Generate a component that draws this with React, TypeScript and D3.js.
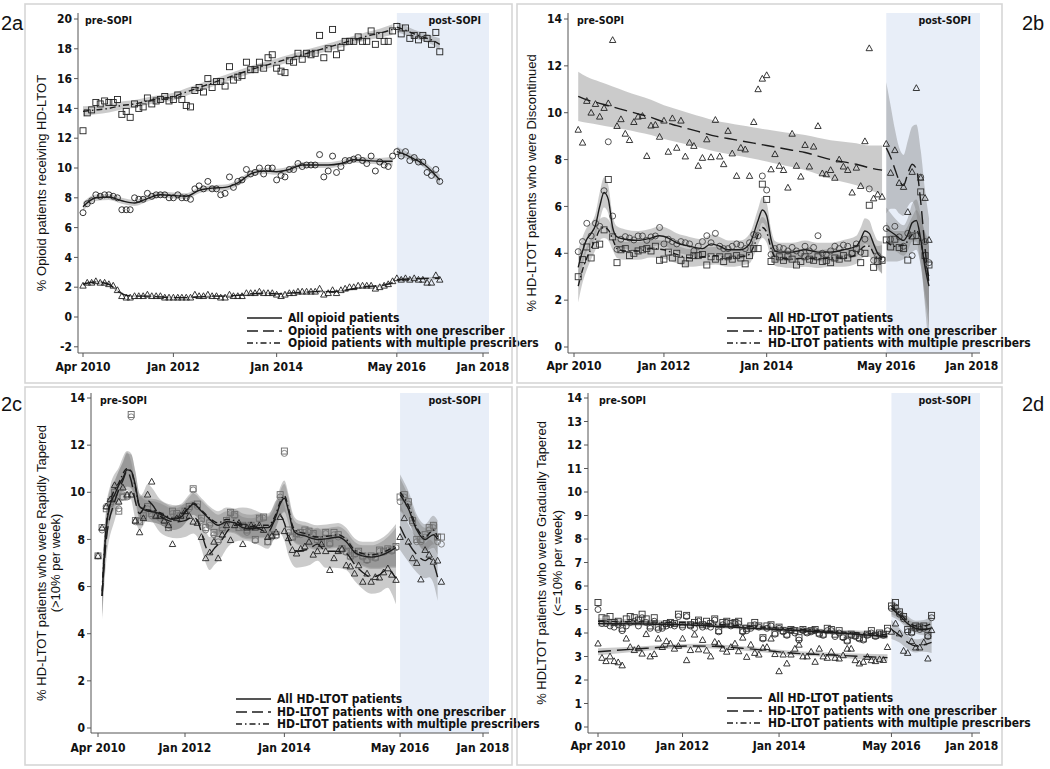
import React from 'react';
import * as d3 from 'd3';

type Knot = [number, number, number]; // [month index from Apr 2010, fitted value, CI half-width]
type Val = number | null;

// ---------- axis ticks ----------
const xTickDates = [new Date(2010, 3, 1), new Date(2012, 0, 1), new Date(2014, 0, 1), new Date(2016, 4, 1), new Date(2018, 0, 1)];
const xTickLabels = ['Apr 2010', 'Jan 2012', 'Jan 2014', 'May 2016', 'Jan 2018'];
const sopiDate = new Date(2016, 4, 1);

const legendOpioid = ['All opioid patients', 'Opioid patients with one prescriber', 'Opioid patients with multiple prescribers'];
const legendHD = ['All HD-LTOT patients', 'HD-LTOT patients with one prescriber', 'HD-LTOT patients with multiple prescribers'];

// ---------- 2a: % opioid patients receiving HD-LTOT (monthly, Apr 2010 .. Mar 2017) ----------
const aAll: Val[] = [7.0,7.6,7.8,8.2,8.1,8.2,8.2,8.1,8.0,7.2, 7.2,7.2,8.0,7.9,7.9,8.3,8.1,8.2,8.2,8.2, 8.0,8.0,8.2,8.0,8.0,7.9,8.6,8.8,8.6,9.1, 8.6,8.6,8.2,8.3,9.4,8.7,9.1,9.2,9.9,9.6, 9.7,10.0,9.6,10.0,10.0,9.2,9.5,9.4,9.9,9.9, 10.3,10.1,10.2,10.2,10.2,10.9,9.4,9.8,10.8,9.7, 10.1,10.5,10.5,10.6,10.7,10.5,10.3,10.8,9.8,10.4, 10.2,10.1,10.8, 11.1,10.8,11.1,10.5,10.7,10.4,10.4,9.7,9.5,9.9,9.1];
const aOne: Val[] = [2.1,2.3,2.3,2.4,2.3,2.3,2.2,2.1,1.8,1.4, 1.3,1.3,1.4,1.4,1.4,1.5,1.4,1.4,1.4,1.3, 1.3,1.3,1.3,1.3,1.3,1.3,1.5,1.4,1.4,1.5, 1.4,1.4,1.3,1.3,1.5,1.4,1.4,1.4,1.6,1.6, 1.6,1.7,1.6,1.6,1.6,1.5,1.4,1.5,1.6,1.6, 1.7,1.7,1.7,1.7,1.7,1.9,1.5,1.6,1.8,1.6, 1.8,1.9,2.0,2.0,2.1,2.1,2.1,2.1,1.9,2.0, 2.1,2.2,2.4, 2.6,2.5,2.6,2.5,2.6,2.5,2.5,2.3,2.3,2.8,2.5];
const aMulti: Val[] = [12.5,13.7,13.9,14.4,14.3,14.5,14.4,14.4,14.6,13.6, 13.8,13.4,14.3,14.0,14.1,14.7,14.3,14.5,14.6,14.8, 14.5,14.6,14.9,14.6,14.2,14.1,15.2,15.4,15.1,16.0, 15.4,15.8,15.8,15.5,16.8,15.9,16.1,16.2,17.1,16.6, 16.6,17.1,16.7,17.4,17.6,16.7,16.5,16.4,17.2,17.1, 17.7,17.3,17.7,17.6,17.7,18.9,17.4,18.0,19.3,17.6, 18.1,18.5,18.5,18.5,18.8,18.5,18.5,19.2,18.3,18.9, 18.5,18.5,19.2, 19.5,19.0,19.4,18.7,18.9,18.6,18.9,18.7,18.3,19.1,17.8];
const aAllPre: Knot[] = [[0,7.4,0.3],[3,8.0,0.22],[6,8.05,0.2],[9,7.8,0.2],[12,7.65,0.2],[15,7.95,0.2],[18,8.2,0.2],[21,8.15,0.2],[24,8.1,0.2],[27,8.5,0.2],[30,8.65,0.2],[33,8.7,0.2],[36,9.0,0.2],[39,9.6,0.2],[42,9.8,0.2],[45,9.75,0.2],[48,9.9,0.2],[51,10.2,0.2],[54,10.2,0.2],[57,10.2,0.2],[60,10.3,0.2],[63,10.55,0.2],[66,10.5,0.2],[69,10.45,0.22],[72,10.45,0.3]];
const aAllPost: Knot[] = [[73,11.1,0.35],[75,10.9,0.25],[77,10.6,0.22],[79,10.3,0.22],[81,9.8,0.25],[83,9.2,0.35]];
const aOnePre: Knot[] = [[0,2.2,0.1],[3,2.35,0.08],[6,2.2,0.08],[8,1.75,0.08],[10,1.45,0.07],[12,1.4,0.06],[15,1.4,0.06],[18,1.35,0.06],[21,1.3,0.06],[24,1.3,0.06],[27,1.35,0.06],[30,1.4,0.06],[33,1.4,0.06],[36,1.45,0.06],[39,1.55,0.06],[42,1.6,0.06],[45,1.55,0.06],[48,1.6,0.06],[51,1.65,0.06],[54,1.7,0.06],[57,1.7,0.06],[60,1.75,0.06],[63,1.9,0.06],[66,2.05,0.06],[69,2.1,0.07],[72,2.3,0.1]];
const aOnePost: Knot[] = [[73,2.5,0.12],[76,2.55,0.08],[79,2.58,0.08],[83,2.6,0.12]];
const aMultiPre: Knot[] = [[0,13.8,0.35],[3,13.9,0.3],[6,14.0,0.28],[9,14.2,0.27],[12,14.3,0.26],[15,14.5,0.25],[18,14.65,0.25],[21,14.8,0.25],[24,15.1,0.25],[27,15.4,0.25],[30,15.7,0.25],[33,16.0,0.25],[36,16.3,0.25],[39,16.6,0.25],[42,16.85,0.25],[45,17.1,0.25],[48,17.35,0.25],[51,17.6,0.25],[54,17.85,0.25],[57,18.1,0.25],[60,18.35,0.26],[63,18.6,0.27],[66,18.85,0.28],[69,19.05,0.3],[72,19.3,0.35]];
const aMultiPost: Knot[] = [[73,19.45,0.35],[75,19.25,0.3],[77,19.0,0.28],[79,18.8,0.28],[81,18.6,0.3],[83,18.3,0.4]];

// ---------- 2b: % HD-LTOT patients discontinued ----------
const bAll: Val[] = [null, 4.07,4.5,5.28,4.74,5.28,5.15,6.67,8.76,5.59,4.17, 4.6,4.71,4.65,4.57,4.74,4.74,4.55,4.7,4.74,5.1, 4.4,4.6,4.5,4.4,4.5,4.45,4.4,4.1,4.3,4.5, 4.75,4.45,4.85,4.3,4.2,4.2,4.3,4.4,4.35,4.2, 4.45,4.8,4.75,7.3,6.7,3.95,4.2,4.25,4.2,4.1, 4.25,4.1,4.0,4.3,4.1,4.25,4.75,4.0,3.95,4.1, 4.3,4.2,4.35,4.3,4.0,4.4,4.05,4.6,6.75,3.7, 3.9,3.75, 5.06,4.6,5.15,4.7,4.3,4.85,3.9,4.75,7.25,4.5,3.6];
const bOne: Val[] = [null, 9.27,8.72,10.5,10.0,10.37,9.83,10.2,10.4,13.1,9.43, 9.72,9.1,8.83,9.6,9.83,9.86,8.15,9.45,9.48,8.97, 9.66,8.33,9.76,8.5,9.66,8.13,8.72,8.58,7.73,8.07, 8.86,8.1,9.69,8.13,7.8,9.22,8.26,7.3,8.5,8.43, 7.3,9.6,11.0,11.45,11.6,7.58,8.23,7.73,7.55,6.8, 9.1,7.73,7.27,8.62,7.7,8.55,9.43,7.41,7.37,7.55, 7.22,8.0,7.7,7.55,6.59,7.65,6.87,8.78,12.75,6.34, 6.51,6.41, 8.67,7.43,8.4,7.0,6.83,5.76,7.47,11.05,7.22,6.36,4.57];
const bMulti: Val[] = [null, 3.0,3.73,4.27,3.8,4.34,4.39,5.0,7.15,4.7,3.6, 4.15,4.2,3.9,4.0,4.1,4.15,4.2,4.1,4.3,3.7, 3.75,4.05,3.8,4.0,3.7,3.55,3.8,3.9,3.9,3.95, 3.5,3.85,3.75,3.85,3.65,3.85,3.75,3.9,3.8,3.55, 3.9,4.2,4.2,6.95,6.3,3.65,3.75,3.85,3.7,3.85, 3.75,3.5,3.65,3.85,3.75,3.7,3.85,3.65,3.7,3.6, 3.8,3.75,3.9,3.8,4.0,4.2,3.6,4.0,6.05,3.4, 3.65,3.7, 4.57,4.27,4.6,4.25,4.2,3.71,4.74,4.5,6.62,3.9,3.5];
const bAllPre: Knot[] = [[1,3.4,0.75],[2,4.1,0.6],[3,4.6,0.5],[4,4.85,0.45],[5,5.2,0.5],[6,6.0,0.6],[7,6.6,0.65],[8,6.3,0.6],[9,5.1,0.5],[10,4.7,0.45],[12,4.6,0.42],[15,4.55,0.4],[18,4.65,0.4],[20,4.75,0.4],[22,4.65,0.4],[24,4.45,0.4],[27,4.3,0.4],[30,4.2,0.4],[32,4.4,0.4],[34,4.3,0.4],[36,4.15,0.4],[39,4.15,0.4],[41,4.4,0.42],[43,5.4,0.5],[44,5.85,0.55],[45,5.6,0.55],[46,4.6,0.45],[47,4.1,0.42],[48,4.05,0.4],[51,4.05,0.4],[54,4.15,0.4],[57,4.05,0.4],[60,4.05,0.4],[63,4.15,0.42],[66,4.3,0.45],[67,4.6,0.5],[68,4.95,0.55],[69,4.85,0.55],[70,4.4,0.5],[71,4.0,0.55],[72,3.8,0.7]];
const bAllPost: Knot[] = [[73,5.05,0.9],[75,4.8,0.7],[77,4.55,0.65],[78,4.8,0.7],[79,5.3,0.8],[80,5.4,0.9],[81,4.6,1.1],[82,3.4,1.4],[83,2.6,1.7]];
const bOnePre: Knot[] = [[1,10.7,1.05],[3,10.55,0.98],[6,10.4,0.92],[9,10.25,0.87],[12,10.1,0.82],[15,9.95,0.78],[18,9.8,0.75],[21,9.6,0.72],[24,9.45,0.7],[27,9.3,0.68],[30,9.15,0.67],[33,9.0,0.66],[36,8.9,0.66],[39,8.8,0.66],[42,8.7,0.67],[45,8.6,0.68],[48,8.5,0.7],[51,8.4,0.72],[54,8.3,0.75],[57,8.15,0.78],[60,8.0,0.82],[63,7.9,0.86],[66,7.8,0.9],[69,7.65,0.95],[72,7.55,1.05]];
const bOnePost: Knot[] = [[73,8.5,2.8],[74,8.1,2.2],[75,7.6,1.7],[76,7.1,1.4],[77,6.9,1.3],[78,7.4,1.4],[79,7.8,1.6],[80,7.6,1.9],[81,6.2,2.2],[82,4.2,2.5],[83,2.7,2.8]];
const bMultiPre: Knot[] = [[1,2.6,0.7],[2,3.3,0.55],[3,3.8,0.5],[4,4.2,0.45],[5,4.6,0.45],[6,5.0,0.45],[7,5.1,0.45],[8,5.0,0.45],[9,4.6,0.45],[10,4.2,0.4],[12,4.1,0.38],[15,4.1,0.38],[18,4.2,0.38],[21,4.15,0.38],[24,3.95,0.38],[27,3.8,0.38],[30,3.85,0.38],[33,3.9,0.38],[36,3.8,0.38],[39,3.85,0.38],[41,3.95,0.38],[42,4.3,0.4],[44,5.1,0.45],[45,4.9,0.45],[46,4.2,0.4],[47,3.85,0.38],[48,3.8,0.38],[51,3.75,0.38],[54,3.8,0.38],[57,3.75,0.38],[60,3.8,0.38],[63,3.8,0.38],[66,3.95,0.4],[68,4.3,0.45],[69,4.3,0.45],[70,4.0,0.45],[71,3.8,0.5],[72,3.75,0.6]];
const bMultiPost: Knot[] = [[73,4.5,0.85],[75,4.3,0.65],[77,4.35,0.6],[79,4.8,0.75],[80,5.0,0.85],[81,4.5,1.0],[82,3.6,1.3],[83,3.0,1.6]];

// ---------- 2c: % HD-LTOT patients rapidly tapered (>10% per week) ----------
const cAll: Val[] = [7.3,8.4,9.4,9.5,9.7,9.3,9.8,9.8,13.2,8.75, 8.8,9.1,9.3,9.0,9.05,8.9,8.7,8.5,9.1,9.0, 9.05,9.1,9.3,10.1,9.4,8.8,8.4,8.6,8.2,7.9, 8.4,8.7,9.1,9.0,8.5,8.5,8.3,8.5,7.95,8.85, 8.9,7.9,8.1,8.15,9.8,11.65,8.3,8.1,8.2,8.2, 8.3,8.3,8.2,7.95,7.85,8.25,7.8,8.2,8.1,7.55, 7.45,7.25,7.35,7.45,7.25,7.1,7.25,7.2,7.5,7.45, 7.55,7.5,7.65, 9.6,9.8,9.5,8.7,7.9,7.9,8.1,8.4,8.5,7.9,7.8];
const cOne: Val[] = [7.3,8.5,9.4,9.7,10.3,9.6,10.2,9.9,9.9,8.8, 8.3,8.9,9.9,10.45,9.0,9.0,8.8,8.6,7.8,8.9, 9.0,9.2,9.0,8.75,8.7,8.1,7.2,7.45,7.9,7.2, 8.2,8.6,7.97,8.6,8.7,7.8,8.5,8.6,8.5,8.6, 8.4,8.1,8.15,8.3,8.95,8.35,8.05,7.55,7.4,7.6, 7.7,7.9,7.35,7.5,7.8,7.5,6.7,7.2,7.5,7.6, 6.9,6.85,6.55,6.9,6.2,6.55,6.2,6.4,6.38,6.6, 6.77,6.5,6.28, 8.1,8.9,7.9,7.2,7.0,6.3,7.55,7.35,7.05,7.1,6.2];
const cMulti: Val[] = [7.3,8.5,9.3,9.6,10.0,9.2,9.8,9.85,13.3,8.8, 8.75,9.0,9.4,9.1,9.0,9.0,8.8,8.5,9.2,9.1, 9.0,9.2,9.4,10.15,9.5,8.9,8.5,8.7,8.3,8.0, 8.5,8.8,9.15,9.05,8.5,8.6,8.4,8.6,8.0,8.9, 8.95,7.9,8.2,8.2,9.9,11.75,8.4,8.1,8.25,8.3, 8.4,8.35,8.25,8.0,7.9,8.3,7.85,8.3,8.2,7.6, 7.5,7.3,7.4,7.5,7.3,7.15,7.3,7.25,7.55,7.5, 7.6,7.55,7.7, 9.8,9.9,9.6,8.8,8.0,8.0,8.2,8.5,8.6,8.1,8.1];
const cAllPre: Knot[] = [[1,5.6,0.9],[2,8.5,0.75],[3,9.5,0.65],[4,9.9,0.6],[5,10.3,0.6],[6,10.6,0.65],[7,10.95,0.7],[8,10.9,0.7],[9,10.3,0.6],[10,9.4,0.5],[12,9.2,0.45],[14,9.15,0.45],[16,9.0,0.45],[18,8.85,0.45],[20,8.95,0.45],[22,9.35,0.45],[23,9.5,0.45],[25,9.2,0.45],[27,8.85,0.45],[29,8.6,0.45],[31,8.75,0.45],[33,8.7,0.45],[35,8.5,0.45],[37,8.45,0.45],[39,8.5,0.45],[41,8.5,0.45],[43,9.0,0.5],[44,9.5,0.55],[45,9.75,0.6],[46,9.2,0.55],[47,8.5,0.5],[48,8.25,0.45],[50,8.15,0.45],[53,8.0,0.45],[56,8.05,0.45],[58,8.1,0.45],[60,7.9,0.45],[62,7.45,0.45],[64,7.3,0.45],[66,7.25,0.5],[68,7.3,0.55],[70,7.45,0.65],[72,7.65,0.85]];
const cAllPost: Knot[] = [[73,9.9,0.7],[75,9.3,0.55],[77,8.4,0.5],[79,8.0,0.5],[81,8.2,0.55],[82,8.0,0.65]];
const cOnePre: Knot[] = [[1,5.6,1.0],[2,8.0,0.9],[4,9.6,0.8],[6,10.5,0.8],[7,10.9,0.8],[8,10.5,0.8],[9,9.6,0.75],[10,9.1,0.7],[11,9.3,0.7],[12,9.65,0.7],[13,9.5,0.7],[15,9.0,0.7],[17,8.8,0.7],[19,8.75,0.7],[21,8.8,0.7],[23,8.95,0.7],[24,8.8,0.7],[25,8.3,0.7],[26,7.7,0.7],[27,7.4,0.7],[28,7.6,0.7],[30,8.0,0.7],[31,8.3,0.7],[33,8.6,0.7],[35,8.65,0.7],[37,8.6,0.7],[39,8.45,0.7],[41,8.3,0.7],[43,8.9,0.75],[44,9.0,0.75],[45,8.7,0.75],[46,8.0,0.7],[48,7.5,0.7],[50,7.55,0.7],[51,7.6,0.7],[53,7.8,0.7],[55,7.5,0.7],[57,7.5,0.7],[60,7.4,0.7],[62,6.95,0.7],[64,6.6,0.7],[66,6.4,0.7],[68,6.5,0.75],[70,6.75,0.8],[71,6.6,0.9],[72,6.35,1.1]];
const cOnePost: Knot[] = [[73,8.55,1.0],[75,7.85,0.8],[77,7.35,0.75],[79,7.1,0.75],[80,7.2,0.8],[81,7.0,0.85],[82,6.4,1.0]];
const cMultiPre: Knot[] = [[1,5.8,0.95],[2,8.6,0.8],[3,9.6,0.7],[5,10.4,0.65],[7,11.0,0.75],[8,10.9,0.75],[9,10.2,0.65],[10,9.4,0.55],[12,9.25,0.5],[14,9.2,0.5],[16,9.05,0.5],[18,8.9,0.5],[20,9.0,0.5],[22,9.4,0.5],[23,9.55,0.5],[25,9.25,0.5],[27,8.9,0.5],[29,8.7,0.5],[31,8.85,0.5],[33,8.8,0.5],[35,8.6,0.5],[37,8.55,0.5],[39,8.6,0.5],[41,8.6,0.5],[43,9.1,0.55],[44,9.6,0.6],[45,9.85,0.65],[46,9.3,0.6],[47,8.6,0.55],[48,8.35,0.5],[50,8.25,0.5],[53,8.1,0.5],[56,8.15,0.5],[58,8.2,0.5],[60,8.0,0.5],[62,7.55,0.5],[64,7.4,0.5],[66,7.35,0.55],[68,7.4,0.6],[70,7.55,0.7],[72,7.75,0.9]];
const cMultiPost: Knot[] = [[73,10.0,0.75],[75,9.45,0.6],[77,8.5,0.55],[79,8.1,0.55],[81,8.4,0.6],[82,8.1,0.7]];

// ---------- 2d: % HD-LTOT patients gradually tapered (<=10% per week) ----------
const dAll: Val[] = [5.0,4.4,4.4,4.3,4.25,4.35,4.1,4.3,4.45,4.5, 4.3,4.65,4.45,4.2,4.5,4.15,4.2,4.3,4.35,4.3, 4.7,4.25,4.7,4.3,4.2,4.5,4.25,4.3,4.25,4.55, 4.05,4.35,4.45,4.3,4.4,4.4,4.05,4.1,4.2,4.35, 4.25,3.75,4.2,4.3,3.95,4.2,4.05,3.9,4.1,4.0, 3.7,4.1,4.0,4.05,4.1,3.95,3.9,4.1,4.1,3.85, 4.0,3.8,3.65,3.9,3.85,3.75,3.7,3.9,4.0,3.85, 3.95,3.9,4.1, 5.05,5.1,4.8,4.6,4.05,4.0,4.2,4.15,4.2,3.85,4.65];
const dOne: Val[] = [3.55,2.94,2.8,3.0,2.8,2.75,2.62,3.76,3.4,3.27, 3.35,3.12,3.95,3.0,3.1,3.76,3.4,3.65,3.55,3.33, 3.45,3.76,2.84,3.27,3.93,3.3,3.7,3.25,3.0,3.62, 3.55,3.33,3.2,3.4,3.55,3.22,3.8,2.98,3.5,3.15, 3.08,3.37,3.4,3.76,3.1,2.37,3.08,2.7,3.08,3.33, 3.5,3.0,3.0,3.2,2.77,3.33,3.0,2.94,3.2,2.94, 2.91,3.05,3.33,3.33,2.84,2.7,2.77,2.98,2.84,2.8, 2.88,2.85,3.4, 4.05,4.4,3.98,3.24,3.15,3.65,3.38,3.38,3.6,2.91,4.12];
const dMulti: Val[] = [5.3,4.65,4.6,4.7,4.45,4.5,4.2,4.6,4.7,4.65, 4.55,4.8,4.6,4.3,4.65,4.25,4.3,4.4,4.45,4.4, 4.8,4.35,4.75,4.35,4.45,4.55,4.35,4.5,4.4,4.6, 4.1,4.45,4.5,4.4,4.45,4.5,4.1,4.2,4.3,4.45, 4.3,3.8,4.3,4.35,4.0,4.25,4.1,3.95,4.15,4.1, 3.8,4.15,4.05,4.1,4.15,4.0,3.95,4.2,4.15,3.95, 4.1,3.85,3.7,3.95,3.9,3.8,3.75,3.95,4.1,3.9, 4.0,3.95,4.2, 5.15,5.3,4.9,4.7,4.15,4.05,4.3,4.25,4.3,3.9,4.75];
const dAllPre: Knot[] = [[0,4.4,0.12],[12,4.38,0.08],[24,4.33,0.07],[36,4.22,0.07],[48,4.12,0.07],[60,4.0,0.08],[72,3.85,0.12]];
const dAllPost: Knot[] = [[73,5.05,0.35],[75,4.75,0.25],[77,4.4,0.22],[79,4.2,0.22],[81,4.15,0.25],[83,4.2,0.35]];
const dOnePre: Knot[] = [[0,3.2,0.15],[12,3.35,0.1],[24,3.45,0.09],[36,3.35,0.09],[48,3.15,0.09],[60,3.05,0.1],[72,2.95,0.15]];
const dOnePost: Knot[] = [[73,4.15,0.4],[75,3.9,0.3],[77,3.6,0.28],[79,3.45,0.28],[81,3.5,0.3],[83,3.6,0.45]];
const dMultiPre: Knot[] = [[0,4.5,0.13],[12,4.47,0.09],[24,4.42,0.08],[36,4.3,0.08],[48,4.18,0.08],[60,4.05,0.09],[72,3.92,0.13]];
const dMultiPost: Knot[] = [[73,5.15,0.35],[75,4.85,0.25],[77,4.5,0.22],[79,4.3,0.22],[81,4.3,0.25],[83,4.4,0.35]];

// ---------- styling ----------
const NARROW = "'Liberation Sans Narrow','Arial Narrow','DejaVu Sans Condensed',sans-serif";
const SANS = "'Liberation Sans',Arial,Helvetica,sans-serif";
const INK = '#1c1c1c';
const DASH = { all: '', one: '13,6', multi: '6,3,1.5,3' };

type Shape = 'circle' | 'square' | 'triangle';
interface Series { key: 'all' | 'one' | 'multi'; shape: Shape; values: Val[]; pre: Knot[]; post: Knot[]; color: string; }
interface PanelCfg {
  label: string; labelX: number; labelY: number;
  frame: [number, number, number, number];
  plot: { l: number; r: number; t: number; b: number };
  xA: number; xJ: number; yDom: [number, number]; yPx: [number, number]; yTicks: number[];
  xLabelY: number; preX: number; postX: number; sopiY: number;
  title: string[]; titleX: number[];
  legend: string[]; legX: number; legTextX: number; legY: number[];
  series: Series[];
}

const monthDate = (m: number) => new Date(2010, 3 + m, 1);

const panels: PanelCfg[] = [
  {
    label: '2a', labelX: 1, labelY: 30, frame: [25, 4, 487, 379],
    plot: { l: 78, r: 489, t: 13, b: 353 }, xA: 83, xJ: 483,
    yDom: [0, 20], yPx: [317, 19], yTicks: d3.range(-2, 21, 2),
    xLabelY: 371, preX: 85, postX: 481, sopiY: 24,
    title: ['% Opioid patients receiving HD-LTOT'], titleX: [41],
    legend: legendOpioid, legX: 247, legTextX: 288, legY: [318, 331, 343],
    series: [
      { key: 'multi', shape: 'square', values: aMulti, pre: aMultiPre, post: aMultiPost, color: '#222' },
      { key: 'all', shape: 'circle', values: aAll, pre: aAllPre, post: aAllPost, color: '#222' },
      { key: 'one', shape: 'triangle', values: aOne, pre: aOnePre, post: aOnePost, color: '#222' },
    ],
  },
  {
    label: '2b', labelX: 1022, labelY: 30, frame: [517, 4, 485, 379],
    plot: { l: 568, r: 980, t: 13, b: 353 }, xA: 574, xJ: 972,
    yDom: [0, 14], yPx: [347, 19], yTicks: d3.range(0, 15, 2),
    xLabelY: 370, preX: 577, postX: 971, sopiY: 24,
    title: ['% HD-LTOT patients who were Discontinued'], titleX: [531],
    legend: legendHD, legX: 727, legTextX: 768, legY: [318, 331, 343],
    series: [
      { key: 'one', shape: 'triangle', values: bOne, pre: bOnePre, post: bOnePost, color: '#222' },
      { key: 'all', shape: 'circle', values: bAll, pre: bAllPre, post: bAllPost, color: '#444' },
      { key: 'multi', shape: 'square', values: bMulti, pre: bMultiPre, post: bMultiPost, color: '#333' },
    ],
  },
  {
    label: '2c', labelX: 1, labelY: 411, frame: [25, 387, 487, 378],
    plot: { l: 91, r: 489, t: 393, b: 733 }, xA: 98, xJ: 483,
    yDom: [0, 14], yPx: [728, 398], yTicks: d3.range(0, 15, 2),
    xLabelY: 752, preX: 100, postX: 481, sopiY: 404,
    title: ['% HD-LTOT patients who were Rapidly Tapered', '(>10% per week)'], titleX: [41, 55],
    legend: legendHD, legX: 236, legTextX: 277, legY: [699, 712, 724],
    series: [
      { key: 'multi', shape: 'square', values: cMulti, pre: cMultiPre, post: cMultiPost, color: '#6a6a6a' },
      { key: 'all', shape: 'circle', values: cAll, pre: cAllPre, post: cAllPost, color: '#777' },
      { key: 'one', shape: 'triangle', values: cOne, pre: cOnePre, post: cOnePost, color: '#222' },
    ],
  },
  {
    label: '2d', labelX: 1022, labelY: 411, frame: [517, 387, 485, 378],
    plot: { l: 588, r: 980, t: 393, b: 733 }, xA: 598, xJ: 972,
    yDom: [0, 14], yPx: [727, 398], yTicks: d3.range(0, 15, 1),
    xLabelY: 750, preX: 599, postX: 971, sopiY: 404,
    title: ['% HDLTOT patients who were Gradually Tapered', '(<=10% per week)'], titleX: [541, 557],
    legend: legendHD, legX: 727, legTextX: 768, legY: [698, 711, 723],
    series: [
      { key: 'multi', shape: 'square', values: dMulti, pre: dMultiPre, post: dMultiPost, color: '#333' },
      { key: 'all', shape: 'circle', values: dAll, pre: dAllPre, post: dAllPost, color: '#333' },
      { key: 'one', shape: 'triangle', values: dOne, pre: dOnePre, post: dOnePost, color: '#222' },
    ],
  },
];

function Marker({ shape, cx, cy, color }: { shape: Shape; cx: number; cy: number; color: string }) {
  const sw = 0.9;
  if (shape === 'square') return <rect x={cx - 3} y={cy - 3} width={6} height={6} fill="none" stroke={color} strokeWidth={sw} />;
  if (shape === 'circle') return <circle cx={cx} cy={cy} r={3} fill="none" stroke={color} strokeWidth={sw} />;
  return <path d={`M${cx},${cy - 3.4}L${cx + 3.2},${cy + 2.4}L${cx - 3.2},${cy + 2.4}Z`} fill="none" stroke={color} strokeWidth={sw} />;
}

function Panel({ p }: { p: PanelCfg }) {
  const x = d3.scaleTime().domain([xTickDates[0], xTickDates[4]]).range([p.xA, p.xJ]);
  const y = d3.scaleLinear().domain(p.yDom).range(p.yPx);
  const xm = (m: number) => x(monthDate(m));
  const line = d3.line<Knot>().x(d => xm(d[0])).y(d => y(d[1])).curve(d3.curveMonotoneX);
  const band = d3.area<Knot>().x(d => xm(d[0])).y0(d => y(d[1] - d[2])).y1(d => y(d[1] + d[2])).curve(d3.curveMonotoneX);
  const { l, r, t, b } = p.plot;
  const xs = x(sopiDate);
  const midY = (t + b) / 2;
  return (
    <g>
      <rect x={p.frame[0]} y={p.frame[1]} width={p.frame[2]} height={p.frame[3]} fill="none" stroke="#d6d6d6" strokeWidth={1.6} />
      <rect x={xs} y={t} width={r - xs} height={b - t} fill="#e8eef8" />
      {p.series.map(s => [s.pre, s.post].map((k, i) => (
        <path key={s.key + 'b' + i} d={band(k) || ''} fill="#7c7c7c" fillOpacity={0.4} stroke="none" />
      )))}
      {p.series.map(s => s.values.map((v, m) => v == null ? null : (
        <Marker key={s.key + m} shape={s.shape} cx={xm(m)} cy={y(v)} color={s.color} />
      )))}
      {p.series.map(s => [s.pre, s.post].map((k, i) => (
        <path key={s.key + 'l' + i} d={line(k) || ''} fill="none" stroke={INK} strokeWidth={1.4} strokeDasharray={DASH[s.key]} />
      )))}
      {/* axes */}
      <line x1={l} x2={l} y1={t} y2={b} stroke="#555" strokeWidth={1} />
      <line x1={l} x2={r} y1={b} y2={b} stroke="#555" strokeWidth={1} />
      {p.yTicks.map(v => (
        <g key={'yt' + v}>
          <line x1={l - 4} x2={l} y1={y(v)} y2={y(v)} stroke="#555" />
          <text x={l - 6} y={y(v)} dy="0.35em" textAnchor="end" fontFamily={NARROW} fontWeight="bold" fontSize={12} fill="#111">{v}</text>
        </g>
      ))}
      {xTickDates.map((d, i) => (
        <g key={'xt' + i}>
          <line x1={x(d)} x2={x(d)} y1={b} y2={b + 4} stroke="#555" />
          <text x={x(d)} y={p.xLabelY} textAnchor="middle" fontFamily={NARROW} fontWeight="bold" fontSize={12} fill="#111">{xTickLabels[i]}</text>
        </g>
      ))}
      {p.title.map((s, i) => (
        <text key={'ti' + i} transform={`translate(${p.titleX[i]},${midY}) rotate(-90)`} textAnchor="middle" dy="0.35em" fontFamily={SANS} fontSize={13} fill="#111">{s}</text>
      ))}
      <text x={p.preX} y={p.sopiY} fontFamily={NARROW} fontWeight="bold" fontSize={10.5} fill="#111">pre-SOPI</text>
      <text x={p.postX} y={p.sopiY} textAnchor="end" fontFamily={NARROW} fontWeight="bold" fontSize={10.5} fill="#111">post-SOPI</text>
      <text x={p.labelX} y={p.labelY} fontFamily={SANS} fontSize={20} fill="#111">{p.label}</text>
      {p.legend.map((s, i) => {
        const key = (['all', 'one', 'multi'] as const)[i];
        return (
          <g key={'lg' + i}>
            <line x1={p.legX} x2={p.legX + 35} y1={p.legY[i]} y2={p.legY[i]} stroke={INK} strokeWidth={1.4} strokeDasharray={key === 'one' ? '11,5' : DASH[key]} />
            <text x={p.legTextX} y={p.legY[i]} dy="0.35em" fontFamily={NARROW} fontWeight="bold" fontSize={12} fill="#111">{s}</text>
          </g>
        );
      })}
    </g>
  );
}

export default function App() {
  return (
    <svg width={1050} height={769} viewBox="0 0 1050 769" style={{ position: 'absolute', left: 0, top: 0, background: '#fff' }}>
      <rect x={0} y={0} width={1050} height={769} fill="#fff" />
      {panels.map(p => <Panel key={p.label} p={p} />)}
    </svg>
  );
}
